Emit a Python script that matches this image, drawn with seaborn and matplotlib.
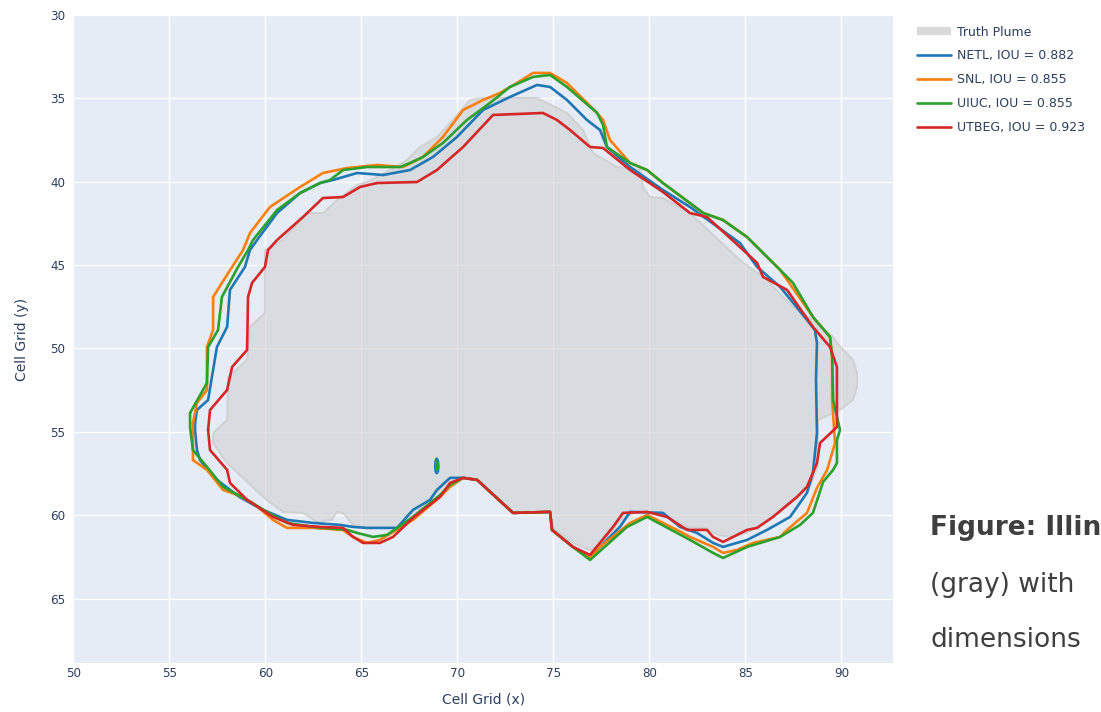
import matplotlib
matplotlib.use("Agg")
import matplotlib.pyplot as plt
from matplotlib.lines import Line2D
import numpy as np
import pandas as pd
import seaborn as sns

# ---- plume outlines in cell-grid coordinates ----
models = ["NETL", "SNL", "UIUC", "UTBEG"]
iou = [0.882, 0.855, 0.855, 0.923]
colors = ["#1f77b4", "#ff7f0e", "#2ca02c", "#d62728"]

truth_x = [60.92, 59.88, 58.01, 57.28, 57.28, 58.01, 58.06, 59.05, 59.20, 59.98, 59.98, 60.92,
           62.17, 63.00, 63.73, 64.78, 65.30, 66.49, 67.38, 68.06, 68.94, 69.77, 70.66, 71.34,
           74.15, 75.71, 76.55, 77.07, 78.32, 79.52, 79.67, 80.04, 80.71, 82.12, 84.72, 86.12,
           87.48, 88.52, 89.57, 89.77, 90.61, 90.82, 90.82, 90.61, 89.93, 88.78, 88.78, 88.40,
           87.70, 86.80, 85.80, 85.00, 84.30, 83.60, 83.00, 82.00, 81.20, 80.50, 79.30, 78.50,
           77.60, 76.91, 76.10, 75.00, 74.83, 72.90, 71.00, 70.30, 69.60, 69.25, 68.60, 67.69,
           66.86, 65.30, 64.57, 64.05, 63.73, 63.47, 62.69, 61.96]
truth_y = [59.80, 58.90, 56.87, 55.67, 55.07, 54.29, 51.71, 50.69, 48.71, 47.87, 44.10, 43.50,
           41.88, 41.88, 41.10, 40.20, 40.02, 39.30, 38.70, 37.92, 37.32, 36.30, 35.10, 34.98,
           34.98, 35.88, 36.90, 38.28, 39.12, 39.30, 40.32, 40.92, 40.98, 41.88, 44.70, 45.89,
           47.51, 48.29, 49.31, 49.67, 50.69, 51.47, 52.31, 53.09, 53.69, 54.29, 57.00, 58.20,
           59.00, 59.80, 60.60, 61.10, 61.30, 61.20, 60.80, 60.70, 60.30, 59.80, 59.80, 60.30,
           61.60, 62.10, 61.70, 60.80, 59.80, 59.80, 57.85, 57.70, 57.80, 58.30, 59.00, 60.10,
           60.76, 60.76, 60.58, 59.86, 59.80, 60.28, 60.40, 59.86]

netl_x = [56.34, 56.44, 57.02, 57.22, 57.48, 58.01, 58.16, 58.94, 59.20, 59.57, 60.61, 61.81,
          62.85, 63.52, 64.78, 66.14, 67.54, 68.73, 69.98, 71.34, 72.74, 74.15, 74.83, 75.71,
          76.75, 77.43, 77.79, 79.00, 80.71, 82.12, 84.72, 85.61, 86.81, 88.21, 88.62, 88.73,
          88.68, 88.73, 88.52, 88.21, 87.33, 86.13, 85.09, 83.84, 83.32, 82.48, 81.60, 80.71,
          79.00, 78.47, 77.43, 76.91, 76.02, 74.93, 74.83, 72.90, 71.03, 70.30, 69.62, 68.94,
          68.58, 67.69, 66.86, 65.30, 64.57, 63.89, 62.48, 61.13, 59.88, 58.64, 57.28, 56.60,
          56.44, 56.34]
netl_y = [54.47, 53.69, 53.09, 51.71, 49.91, 48.71, 46.49, 45.11, 44.10, 43.50, 41.88, 40.68,
          40.08, 39.90, 39.48, 39.60, 39.30, 38.52, 37.32, 35.70, 34.92, 34.20, 34.32, 35.10,
          36.30, 36.90, 37.92, 39.12, 40.50, 41.52, 43.68, 45.11, 46.31, 48.29, 48.89, 49.67,
          51.89, 55.07, 57.46, 58.66, 60.10, 60.88, 61.48, 61.90, 61.66, 61.06, 60.70, 59.86,
          59.80, 60.70, 61.90, 62.50, 61.90, 60.88, 59.80, 59.86, 57.88, 57.76, 57.76, 58.48,
          59.08, 59.68, 60.76, 60.76, 60.70, 60.58, 60.46, 60.28, 59.68, 58.90, 57.70, 56.69,
          56.09, 54.89]

snl_x = [56.23, 56.44, 56.96, 56.96, 57.28, 57.28, 58.27, 58.84, 59.20, 60.24, 61.81, 63.00,
         64.26, 65.82, 67.17, 68.21, 69.25, 70.30, 71.34, 72.22, 73.11, 73.94, 74.83, 75.71,
         77.28, 77.59, 77.95, 79.00, 79.88, 80.71, 82.81, 83.84, 85.09, 86.81, 88.52, 89.41,
         89.52, 89.52, 89.67, 89.26, 88.73, 88.21, 87.17, 86.81, 85.40, 84.57, 83.84, 83.32,
         82.12, 81.44, 79.88, 79.00, 77.43, 76.91, 76.02, 74.93, 74.83, 72.90, 71.03, 70.30,
         69.62, 69.10, 67.69, 65.97, 65.30, 64.57, 64.05, 62.48, 61.13, 60.40, 59.36, 58.53,
         57.80, 56.96, 56.23, 56.23]
snl_y = [54.47, 53.27, 52.49, 49.91, 48.89, 46.91, 45.11, 44.10, 43.08, 41.52, 40.32, 39.48,
         39.18, 39.00, 39.12, 38.52, 37.32, 35.70, 35.10, 34.68, 34.08, 33.48, 33.48, 34.08,
         35.88, 36.30, 37.50, 38.88, 39.30, 40.08, 41.88, 42.30, 43.32, 45.29, 48.11, 49.31,
         50.51, 53.09, 55.67, 57.28, 58.36, 59.86, 60.88, 61.30, 61.66, 62.08, 62.26, 61.90,
         61.30, 60.88, 59.98, 60.46, 61.90, 62.56, 61.90, 60.88, 59.80, 59.86, 57.88, 57.76,
         58.30, 58.90, 60.28, 61.48, 61.66, 61.30, 60.88, 60.76, 60.76, 60.28, 59.27, 58.78,
         58.48, 57.28, 56.69, 55.49]

uiuc_x = [56.08, 56.96, 57.02, 57.54, 57.74, 58.58, 59.10, 59.36, 60.61, 61.81, 62.85, 63.37,
          64.05, 65.30, 67.02, 67.54, 68.21, 69.25, 70.50, 71.70, 72.74, 73.94, 74.83, 75.71,
          77.28, 77.59, 77.79, 79.00, 79.88, 80.71, 82.81, 83.84, 85.09, 86.81, 87.48, 88.52,
          89.41, 89.52, 89.57, 89.93, 89.77, 89.77, 89.57, 89.05, 88.52, 87.85, 86.81, 85.09,
          83.84, 83.32, 82.12, 81.44, 79.88, 78.84, 76.91, 76.02, 74.93, 74.83, 72.90, 71.03,
          70.30, 69.62, 69.10, 67.69, 66.34, 65.61, 64.78, 64.26, 62.48, 61.13, 60.09, 59.05,
          57.80, 56.96, 56.23, 56.08]
uiuc_y = [53.87, 52.07, 49.91, 48.89, 46.91, 45.11, 44.10, 43.50, 41.70, 40.68, 40.08, 39.90,
          39.30, 39.12, 39.12, 38.88, 38.52, 37.68, 36.30, 35.28, 34.32, 33.72, 33.60, 34.32,
          35.88, 36.60, 37.92, 38.88, 39.30, 40.08, 41.88, 42.30, 43.32, 45.29, 46.07, 48.11,
          49.31, 50.51, 53.09, 54.89, 55.49, 56.87, 57.28, 58.00, 59.86, 60.58, 61.30, 61.90,
          62.56, 62.26, 61.48, 61.06, 60.10, 60.70, 62.68, 61.90, 60.88, 59.80, 59.86, 57.88,
          57.76, 58.18, 58.78, 60.10, 61.18, 61.30, 61.06, 60.88, 60.70, 60.46, 59.80, 59.08,
          58.30, 57.10, 56.09, 54.71]

utbeg_x = [57.02, 57.12, 58.01, 58.27, 59.05, 59.10, 59.31, 59.98, 60.14, 60.61, 61.96, 63.00,
           64.05, 64.93, 65.82, 67.90, 68.94, 70.30, 71.86, 74.46, 75.19, 75.87, 76.91, 77.59,
           79.00, 80.71, 82.12, 83.00, 84.72, 85.61, 85.92, 87.17, 88.52, 89.41, 89.77, 89.77,
           88.89, 88.73, 88.21, 87.69, 86.44, 85.61, 85.09, 83.84, 83.32, 83.00, 81.96, 80.92,
           79.88, 78.63, 78.11, 76.91, 76.02, 74.93, 74.83, 72.90, 71.03, 70.30, 69.62, 69.10,
           67.69, 66.65, 65.97, 65.09, 64.57, 64.05, 62.85, 61.44, 60.40, 59.05, 58.16, 58.01,
           57.12]
utbeg_y = [54.89, 53.69, 52.49, 51.11, 50.09, 46.91, 46.07, 45.11, 44.10, 43.50, 42.12, 40.98,
           40.92, 40.32, 40.08, 40.02, 39.30, 37.92, 36.00, 35.88, 36.30, 36.90, 37.92, 37.98,
           39.30, 40.62, 41.88, 42.12, 43.92, 44.87, 45.71, 46.49, 48.71, 49.91, 51.11, 54.71,
           55.67, 56.87, 58.30, 58.90, 60.10, 60.76, 60.88, 61.60, 61.30, 60.88, 60.88, 60.10,
           59.80, 59.86, 60.70, 62.38, 61.90, 60.88, 59.80, 59.86, 57.88, 57.76, 58.06, 58.90,
           60.16, 61.30, 61.66, 61.66, 61.30, 60.76, 60.70, 60.58, 60.10, 59.08, 58.06, 57.28,
           56.09]

# small isolated contours near (69, 57)
netl_island_x = [68.93, 68.99, 69.01, 68.99, 68.93, 68.87, 68.85, 68.87, 68.93]
netl_island_y = [56.62, 56.75, 57.05, 57.35, 57.48, 57.35, 57.05, 56.75, 56.62]
uiuc_island_x = [68.94, 68.97, 68.98, 68.97, 68.94, 68.91, 68.90, 68.91, 68.94]
uiuc_island_y = [56.80, 56.88, 57.05, 57.22, 57.30, 57.22, 57.05, 56.88, 56.80]

# ---- assemble a long table for seaborn ----
outlines = {"NETL": (netl_x, netl_y), "SNL": (snl_x, snl_y),
            "UIUC": (uiuc_x, uiuc_y), "UTBEG": (utbeg_x, utbeg_y)}
islands = {"NETL": (netl_island_x, netl_island_y), "UIUC": (uiuc_island_x, uiuc_island_y)}
frames = []
for m in models:
    xs, ys = outlines[m]
    frames.append(pd.DataFrame({"x": xs + xs[:1], "y": ys + ys[:1],
                                "model": m, "part": m + "-main"}))
    if m in islands:
        ix, iy = islands[m]
        frames.append(pd.DataFrame({"x": ix, "y": iy, "model": m, "part": m + "-island"}))
df = pd.concat(frames, ignore_index=True)

# ---- styling ----
sns.set_theme(style="whitegrid", rc={
    "axes.facecolor": "#E5ECF6",
    "figure.facecolor": "white",
    "grid.color": "white",
    "grid.linewidth": 1.0,
    "axes.edgecolor": "#E5ECF6",
})
plt.rcParams["font.family"] = ["DejaVu Sans"]

fig = plt.figure(figsize=(11.01, 7.12), dpi=100)
ax = fig.add_axes([73.3 / 1101, 1 - 663 / 712, (893 - 73.3) / 1101, (663 - 14.9) / 712])

# truth plume
ax.fill(truth_x, truth_y, color="#d0d0d0", alpha=0.6, lw=0, zorder=2)
ax.plot(truth_x + truth_x[:1], truth_y + truth_y[:1], color="#cfcfcf", lw=1.4, alpha=0.9, zorder=2)

sns.lineplot(data=df, x="x", y="y", hue="model", units="part", estimator=None, sort=False,
             hue_order=models, palette=colors, linewidth=1.9, legend=False, ax=ax, zorder=3)

ax.set_xlim(50, 92.69)
ax.set_ylim(68.86, 30)
ax.set_xticks(np.arange(50, 91, 5))
ax.set_yticks(np.arange(30, 66, 5))
for s in ax.spines.values():
    s.set_visible(False)
ax.tick_params(axis="x", length=0, labelsize=8.6, labelcolor="#2a3f5f", pad=3)
ax.tick_params(axis="y", length=0, labelsize=8.6, labelcolor="#2a3f5f", pad=6)
ax.set_xlabel("Cell Grid (x)", fontsize=10, color="#2a3f5f", labelpad=9)
ax.set_ylabel("Cell Grid (y)", fontsize=10, color="#2a3f5f", labelpad=15)

# legend
handles = [Line2D([0], [0], color="#d9d9d9", lw=6, solid_capstyle="butt")]
labels = ["Truth Plume"]
for m, v, c in zip(models, iou, colors):
    handles.append(Line2D([0], [0], color=c, lw=1.9))
    labels.append(f"{m}, IOU = {v:.3f}")
fig.legend(handles, labels, loc="upper left", bbox_to_anchor=(912 / 1101, 1 - 20.5 / 712),
           frameon=False, fontsize=9, handlelength=2.72, handletextpad=0.48,
           labelspacing=0.88, labelcolor="#2a3f5f", borderaxespad=0)

# caption text at the right edge
fig.text(930 / 1101, 1 - 528 / 712, "Figure: Illin", fontsize=19, fontweight="bold",
         color="#3f3f3f", va="center", ha="left")
fig.text(930 / 1101, 1 - 585 / 712, "(gray) with", fontsize=19, color="#3f3f3f",
         va="center", ha="left")
fig.text(930 / 1101, 1 - 640 / 712, "dimensions", fontsize=19, color="#3f3f3f",
         va="center", ha="left")

fig.savefig("out.png", dpi=100)
